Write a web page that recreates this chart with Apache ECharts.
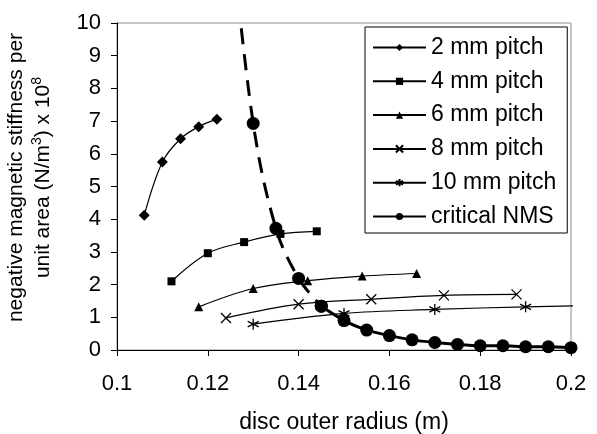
<!DOCTYPE html>
<html>
<head>
<meta charset="utf-8">
<script src="https://cdn.jsdelivr.net/npm/echarts@6/dist/echarts.min.js"></script>
<style>html,body{margin:0;padding:0;background:#fff;}#c{width:597px;height:434px;}</style>
</head>
<body>
<div id="c"></div>
<script>
// ---- data ----
var x2 = [0.106, 0.11, 0.114, 0.118, 0.122];
var y2 = [4.12, 5.75, 6.46, 6.83, 7.06];
var x4 = [0.112, 0.12, 0.128, 0.136, 0.144];
var y4 = [2.1, 2.96, 3.3, 3.55, 3.63];
var x6 = [0.118, 0.13, 0.142, 0.154, 0.166];
var y6 = [1.32, 1.88, 2.12, 2.26, 2.34];
var x8 = [0.124, 0.14, 0.156, 0.172, 0.188];
var y8 = [0.98, 1.4, 1.55, 1.67, 1.7];
var x10 = [0.13, 0.15, 0.17, 0.19, 0.21];
var y10 = [0.79, 1.12, 1.24, 1.32, 1.37];
var xCrit = [0.125, 0.13, 0.135, 0.14, 0.145, 0.15, 0.155, 0.16, 0.165, 0.17, 0.175, 0.18, 0.185, 0.19, 0.195, 0.2];
var yCrit = [13.0, 6.93, 3.72, 2.19, 1.34, 0.9, 0.61, 0.44, 0.31, 0.23, 0.17, 0.13, 0.13, 0.1, 0.1, 0.07];
var critDashedEnd = 4; // dashed part covers indices 0..4, solid from 4 on
var seriesNames = ['2 mm pitch', '4 mm pitch', '6 mm pitch', '8 mm pitch', '10 mm pitch', 'critical NMS'];
var xTicks = {min: 0.1, max: 0.2, interval: 0.02};
var yTicks = {min: 0, max: 10, interval: 1};

function pairs(xs, ys) { return xs.map(function (x, i) { return [x, ys[i]]; }); }

var FONT = 'Liberation Sans, Arial, sans-serif';
var FS = 22;
var FT = 23;
var FY = 21;
var thin = {color: '#000', width: 1.2};

function thinSeries(name, xs, ys, symbol, size, hollow) {
  return {
    name: name, type: 'line', data: pairs(xs, ys),
    smooth: 0.35, symbol: symbol, symbolSize: size, clip: true,
    lineStyle: thin,
    itemStyle: hollow ? {color: 'rgba(0,0,0,0)', borderColor: '#000', borderWidth: 1.3} : {color: '#000', borderWidth: 0},
    emphasis: {disabled: true}
  };
}

var chart = echarts.init(document.getElementById('c'), null, {renderer: 'canvas'});
chart.setOption({
  animation: false,
  backgroundColor: '#fff',
  textStyle: {fontFamily: FONT},
  grid: {left: 117, right: 26, top: 23, bottom: 84, containLabel: false, outerBoundsMode: 'none',
    show: true, borderColor: '#8c8c8c', borderWidth: 1, backgroundColor: 'transparent'},
  xAxis: {
    type: 'value', min: xTicks.min, max: xTicks.max, interval: xTicks.interval,
    name: 'disc outer radius (m)', nameLocation: 'middle', nameGap: 61,
    nameTextStyle: {fontSize: FT, color: '#000', fontFamily: FONT},
    axisLine: {lineStyle: {color: '#000', width: 1}},
    axisTick: {show: true, inside: false, length: 6, lineStyle: {color: '#000'}},
    axisLabel: {fontSize: FS, color: '#000', fontFamily: FONT, margin: 23,
      formatter: function (v) { return String(parseFloat(v.toFixed(2))); }},
    splitLine: {show: false}
  },
  yAxis: {
    type: 'value', min: yTicks.min, max: yTicks.max, interval: yTicks.interval,
    name: '{a|negative magnetic stiffness per}\n{a|unit area (N/m}{s|3}{a|) x 10}{s|8}',
    nameLocation: 'middle', nameGap: 60, nameRotate: 90,
    nameTextStyle: {fontSize: FY, color: '#000', fontFamily: FONT, lineHeight: 27, padding: [0, 0, 0, 18],
      rich: {a: {fontSize: FY, lineHeight: 27, fontFamily: FONT, color: '#000'},
             s: {fontSize: 14, lineHeight: 14, verticalAlign: 'top', fontFamily: FONT, color: '#000'}}},
    axisLine: {show: true, lineStyle: {color: '#000', width: 1}},
    axisTick: {show: true, inside: false, length: 6, lineStyle: {color: '#000'}},
    axisLabel: {fontSize: FS, color: '#000', fontFamily: FONT, margin: 16},
    splitLine: {show: false}
  },
  legend: {
    data: seriesNames,
    orient: 'vertical', left: 365, top: 27,
    backgroundColor: '#fff', borderColor: '#000', borderWidth: 1,
    padding: [9, 11, 5, 7],
    itemWidth: 53, itemHeight: 9, itemGap: 10.8,
    textStyle: {fontSize: FT, color: '#000', fontFamily: FONT, lineHeight: 22},
    selectedMode: false
  },
  series: [
    thinSeries(seriesNames[0], x2, y2, 'diamond', 11, false),
    thinSeries(seriesNames[1], x4, y4, 'rect', 8, false),
    thinSeries(seriesNames[2], x6, y6, 'triangle', 9, false),
    thinSeries(seriesNames[3], x8, y8, 'path://M0,0L10,10M10,0L0,10', 10, true),
    thinSeries(seriesNames[4], x10, y10, 'path://M5,0L5,10M0,2.5L10,7.5M0,7.5L10,2.5', 11, true),
    {
      name: 'critical NMS (dashed)', type: 'line',
      data: pairs(xCrit.slice(0, critDashedEnd + 1), yCrit.slice(0, critDashedEnd + 1)),
      smooth: 0.35, symbol: 'circle', symbolSize: 13, clip: true,
      lineStyle: {color: '#000', width: 3, type: [16, 10]},
      itemStyle: {color: '#000'}, emphasis: {disabled: true}
    },
    {
      name: seriesNames[5], type: 'line',
      data: pairs(xCrit.slice(critDashedEnd), yCrit.slice(critDashedEnd)),
      smooth: 0.2, symbol: 'circle', symbolSize: 13, clip: true,
      lineStyle: {color: '#000', width: 3},
      itemStyle: {color: '#000'}, emphasis: {disabled: true}
    }
  ]
});
</script>
</body>
</html>
